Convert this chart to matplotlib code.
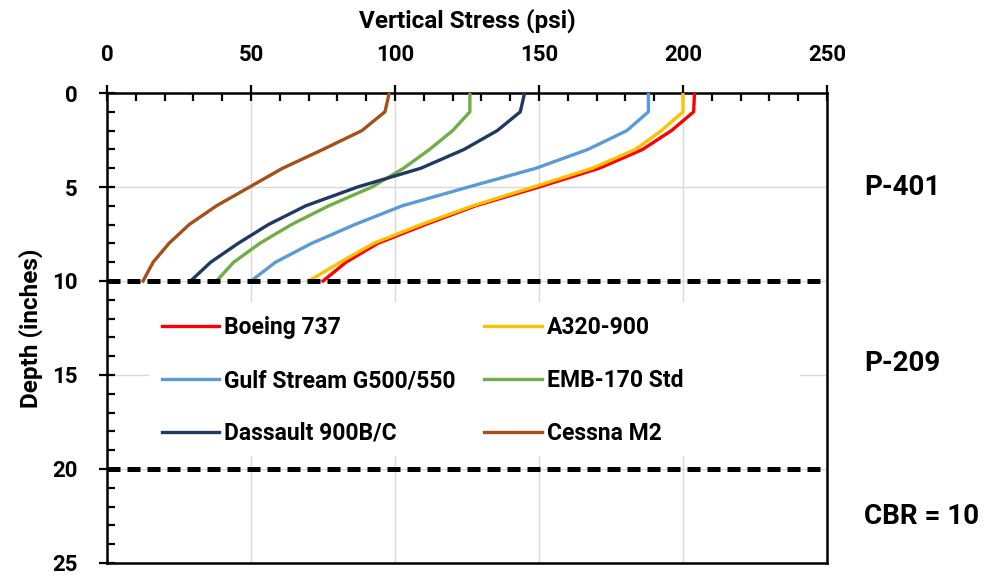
import numpy as np
import matplotlib.pyplot as plt
from matplotlib.patches import Rectangle
from matplotlib.ticker import MultipleLocator
import matplotlib.transforms as mtransforms

plt.rcParams['font.family'] = ['Roboto', 'DejaVu Sans']
plt.rcParams['font.weight'] = 'bold'

# depth below surface (inches)
depth = [0, 1, 2, 3, 4, 5, 6, 7, 8, 9, 10]

# vertical stress (psi) per aircraft
boeing_737 = [204, 203.7, 196, 186, 171, 150, 128, 110.5, 94, 83, 75]
a320_900 = [200, 200, 192.5, 183.5, 168.5, 148, 127, 109, 92.5, 81, 70]
gulf_stream = [188, 188, 180.5, 167, 149, 125.5, 102.5, 86, 71, 58.5, 50]
emb_170 = [126, 126, 120, 112, 103, 92, 77, 64, 53, 44, 38]
dassault = [145, 143.5, 135.5, 124, 109, 87, 69, 56, 45.5, 36, 29]
cessna_m2 = [98, 96.5, 88.5, 75, 61, 49.5, 38, 28.5, 21.5, 16, 12.5]

series = [
    ('Boeing 737', boeing_737, '#FF0000'),
    ('A320-900', a320_900, '#FFC000'),
    ('Gulf Stream G500/550', gulf_stream, '#5B9BD5'),
    ('EMB-170 Std', emb_170, '#70AD47'),
    ('Dassault 900B/C', dassault, '#203864'),
    ('Cessna M2', cessna_m2, '#A5501A'),
]

# layer boundaries and labels
boundaries = [10, 20]
layer_names = ['P-401', 'P-209', 'CBR = 10']
layer_label_depth = [5, 14.4, 22.55]

fig = plt.figure(figsize=(9.93, 5.77), dpi=100)
ax = fig.add_axes([0.1078, 0.0243, 0.725, 0.8145])

lines = []
for name, vals, col in series:
    ln, = ax.plot(vals, depth, color=col, lw=2.4, label=name, zorder=3)
    lines.append(ln)

for b in boundaries:
    ax.axhline(b, color='black', lw=3.6, dashes=(2.6, 1.4), zorder=4)

ax.set_xlim(0, 250)
ax.set_ylim(25, 0)
ax.xaxis.tick_top()
ax.xaxis.set_label_position('top')
ax.xaxis.set_major_locator(MultipleLocator(50))
ax.xaxis.set_minor_locator(MultipleLocator(10))
ax.yaxis.set_major_locator(MultipleLocator(5))
ax.yaxis.set_minor_locator(MultipleLocator(1))
ax.grid(True, which='major', color='#D9D9D9', lw=1.0, zorder=0)
ax.set_axisbelow(True)

ax.tick_params(which='major', direction='inout', length=11, width=1.6,
               labelsize=16)
ax.tick_params(axis='x', which='major', pad=14)
ax.tick_params(axis='y', which='major', pad=16)
ax.tick_params(which='minor', direction='in', length=6, width=1.6)
ax.tick_params(top=True, bottom=False, right=False, left=True, which='both')
for s in ax.spines.values():
    s.set_linewidth(1.8)

ax.set_xlabel('Vertical Stress (psi)', fontsize=17.5, fontweight='bold', labelpad=12)
ax.set_ylabel('Depth (inches)', fontsize=17.5, fontweight='bold', labelpad=6)

# white box behind the legend
ax.add_patch(Rectangle((0.058, 0.228), 0.905, 0.328, transform=ax.transAxes,
                       facecolor='white', edgecolor='none', zorder=1))

# legend fills row by row: reorder for matplotlib's column-first layout
order = [0, 2, 4, 1, 3, 5]
ax.legend([lines[i] for i in order], [series[i][0] for i in order],
          loc='upper left', bbox_to_anchor=(0.076, 0.525), ncol=2,
          frameon=False, fontsize=16.5, handlelength=2.5, handletextpad=0.22,
          columnspacing=1.25, labelspacing=1.3, borderpad=0, borderaxespad=0)

trans = mtransforms.blended_transform_factory(ax.transAxes, ax.transData)
for name, d in zip(layer_names, layer_label_depth):
    ax.text(1.052, d, name, transform=trans, fontsize=20, fontweight='bold',
            ha='left', va='center')

fig.savefig('out.png', dpi=100)
